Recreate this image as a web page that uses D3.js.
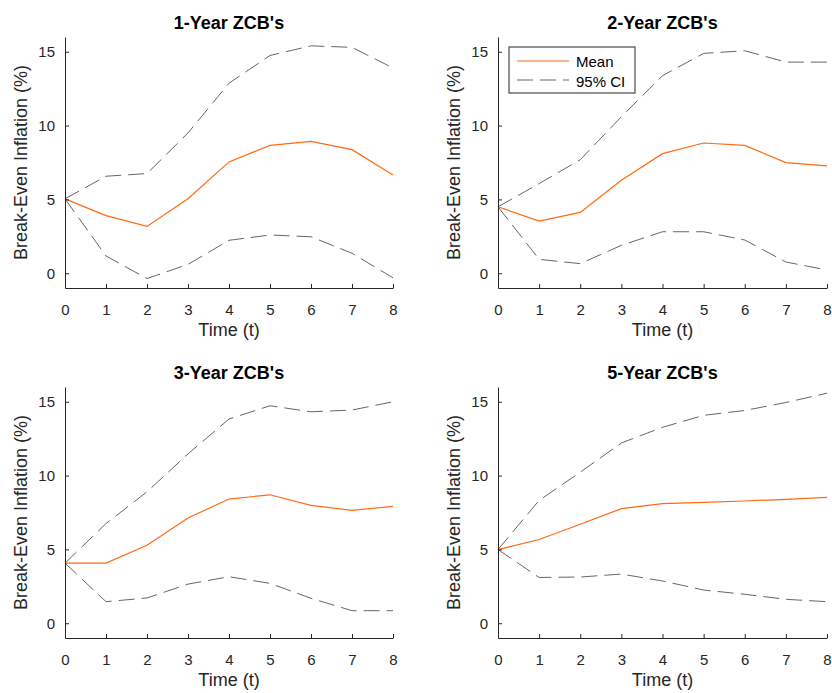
<!DOCTYPE html>
<html>
<head>
<meta charset="utf-8">
<script src="https://cdn.jsdelivr.net/npm/d3@7"></script>
<style>
  body { margin: 0; background: #fff; }
  text { font-family: "Liberation Sans", Arial, sans-serif; }
</style>
</head>
<body>
<svg id="chart"></svg>
<script>
const width = 832
const height = 693

// data
const times = [0, 1, 2, 3, 4, 5, 6, 7, 8]
const titles = ["1-Year ZCB's", "2-Year ZCB's", "3-Year ZCB's", "5-Year ZCB's"]
const mean1 = [5.04, 3.9, 3.17, 5.05, 7.54, 8.66, 8.93, 8.37, 6.66]
const upper1 = [5.04, 6.57, 6.75, 9.5, 12.87, 14.75, 15.4, 15.3, 13.9]
const lower1 = [5.04, 1.17, -0.36, 0.6, 2.23, 2.59, 2.47, 1.35, -0.31]
const mean2 = [4.5, 3.53, 4.12, 6.3, 8.1, 8.82, 8.66, 7.49, 7.27]
const upper2 = [4.5, 6.07, 7.69, 10.6, 13.38, 14.89, 15.07, 14.3, 14.3]
const lower2 = [4.5, 0.94, 0.65, 1.89, 2.81, 2.81, 2.25, 0.76, 0.22]
const mean3 = [4.07, 4.07, 5.28, 7.13, 8.41, 8.7, 7.98, 7.65, 7.92]
const upper3 = [4.07, 6.75, 8.9, 11.47, 13.83, 14.73, 14.32, 14.44, 15.0]
const lower3 = [4.07, 1.46, 1.71, 2.65, 3.15, 2.7, 1.69, 0.85, 0.85]
const mean4 = [4.99, 5.67, 6.7, 7.76, 8.1, 8.19, 8.28, 8.39, 8.52]
const upper4 = [4.99, 8.32, 10.23, 12.21, 13.27, 14.08, 14.41, 14.95, 15.58]
const lower4 = [4.99, 3.1, 3.13, 3.33, 2.86, 2.25, 1.96, 1.62, 1.46]
const yTicks = [0, 5, 10, 15]

const panels = [
    { title: titles[0], mean: mean1, upper: upper1, lower: lower1, x0: 65, x1: 393, y0: 37, y1: 288, legend: false },
    { title: titles[1], mean: mean2, upper: upper2, lower: lower2, x0: 498, x1: 827, y0: 37, y1: 288, legend: true },
    { title: titles[2], mean: mean3, upper: upper3, lower: lower3, x0: 65, x1: 393, y0: 387, y1: 638, legend: false },
    { title: titles[3], mean: mean4, upper: upper4, lower: lower4, x0: 498, x1: 827, y0: 387, y1: 638, legend: false },
]

const axisColor = '#262626'
const meanColor = '#ff6a10'
const ciColor = '#666666'
const dash = '16,7'

const svg = d3.select('#chart')
    .attr('width', width)
    .attr('height', height)

panels.forEach(p => {
    const x = d3.scaleLinear().domain([0, 8]).range([p.x0, p.x1])
    const y = d3.scaleLinear().domain([-1, 16]).range([p.y1, p.y0])
    const g = svg.append('g')

    const line = vals => d3.line().x((d, i) => x(times[i])).y(d => y(d))(vals)

    g.append('path').attr('d', line(p.upper))
        .attr('fill', 'none').attr('stroke', ciColor).attr('stroke-width', 1)
        .attr('stroke-dasharray', dash)
    g.append('path').attr('d', line(p.lower))
        .attr('fill', 'none').attr('stroke', ciColor).attr('stroke-width', 1)
        .attr('stroke-dasharray', dash)
    g.append('path').attr('d', line(p.mean))
        .attr('fill', 'none').attr('stroke', meanColor).attr('stroke-width', 1.2)

// axes, ticks inward like matlab
    const xAxis = g.append('g')
        .attr('transform', `translate(0,${p.y1})`)
        .call(d3.axisBottom(x).tickValues(times).tickSizeInner(-4).tickSizeOuter(0).tickPadding(16))
    const yAxis = g.append('g')
        .attr('transform', `translate(${p.x0},0)`)
        .call(d3.axisLeft(y).tickValues(yTicks).tickSizeInner(-4).tickSizeOuter(0).tickPadding(10))

    ;[xAxis, yAxis].forEach(a => {
        a.select('.domain').attr('stroke', axisColor)
        a.selectAll('.tick line').attr('stroke', axisColor)
        a.selectAll('.tick text').attr('fill', axisColor)
            .style('font-size', '15px')
            .style('font-family', '"Liberation Sans", Arial, sans-serif')
    })

    g.append('text')
        .text(p.title)
        .attr('x', (p.x0 + p.x1) / 2)
        .attr('y', p.y0 - 8)
        .attr('text-anchor', 'middle')
        .style('font-size', '18px')
        .style('font-weight', 'bold')
        .attr('fill', '#000')

    g.append('text')
        .text('Time (t)')
        .attr('x', (p.x0 + p.x1) / 2)
        .attr('y', p.y1 + 48)
        .attr('text-anchor', 'middle')
        .style('font-size', '18px')
        .attr('fill', axisColor)

    g.append('text')
        .text('Break-Even Inflation (%)')
        .attr('transform', `translate(${p.x0 - 38},${(p.y0 + p.y1) / 2}) rotate(-90)`)
        .attr('text-anchor', 'middle')
        .style('font-size', '18px')
        .attr('fill', axisColor)

    if (p.legend) {
        const lx = p.x0 + 11
        const ly = p.y0 + 10
        const lg = g.append('g')
        lg.append('rect')
            .attr('x', lx).attr('y', ly).attr('width', 126).attr('height', 46)
            .attr('fill', '#fff').attr('stroke', axisColor).attr('stroke-width', 1)
        lg.append('line')
            .attr('x1', lx + 8).attr('x2', lx + 60).attr('y1', ly + 14).attr('y2', ly + 14)
            .attr('stroke', meanColor).attr('stroke-width', 1.2)
        lg.append('line')
            .attr('x1', lx + 8).attr('x2', lx + 60).attr('y1', ly + 33).attr('y2', ly + 33)
            .attr('stroke', ciColor).attr('stroke-width', 1).attr('stroke-dasharray', dash)
        lg.append('text').text('Mean')
            .attr('x', lx + 67).attr('y', ly + 20)
            .style('font-size', '15px').attr('fill', '#000')
        lg.append('text').text('95% CI')
            .attr('x', lx + 67).attr('y', ly + 40)
            .style('font-size', '15px').attr('fill', '#000')
    }
})
</script>
</body>
</html>
